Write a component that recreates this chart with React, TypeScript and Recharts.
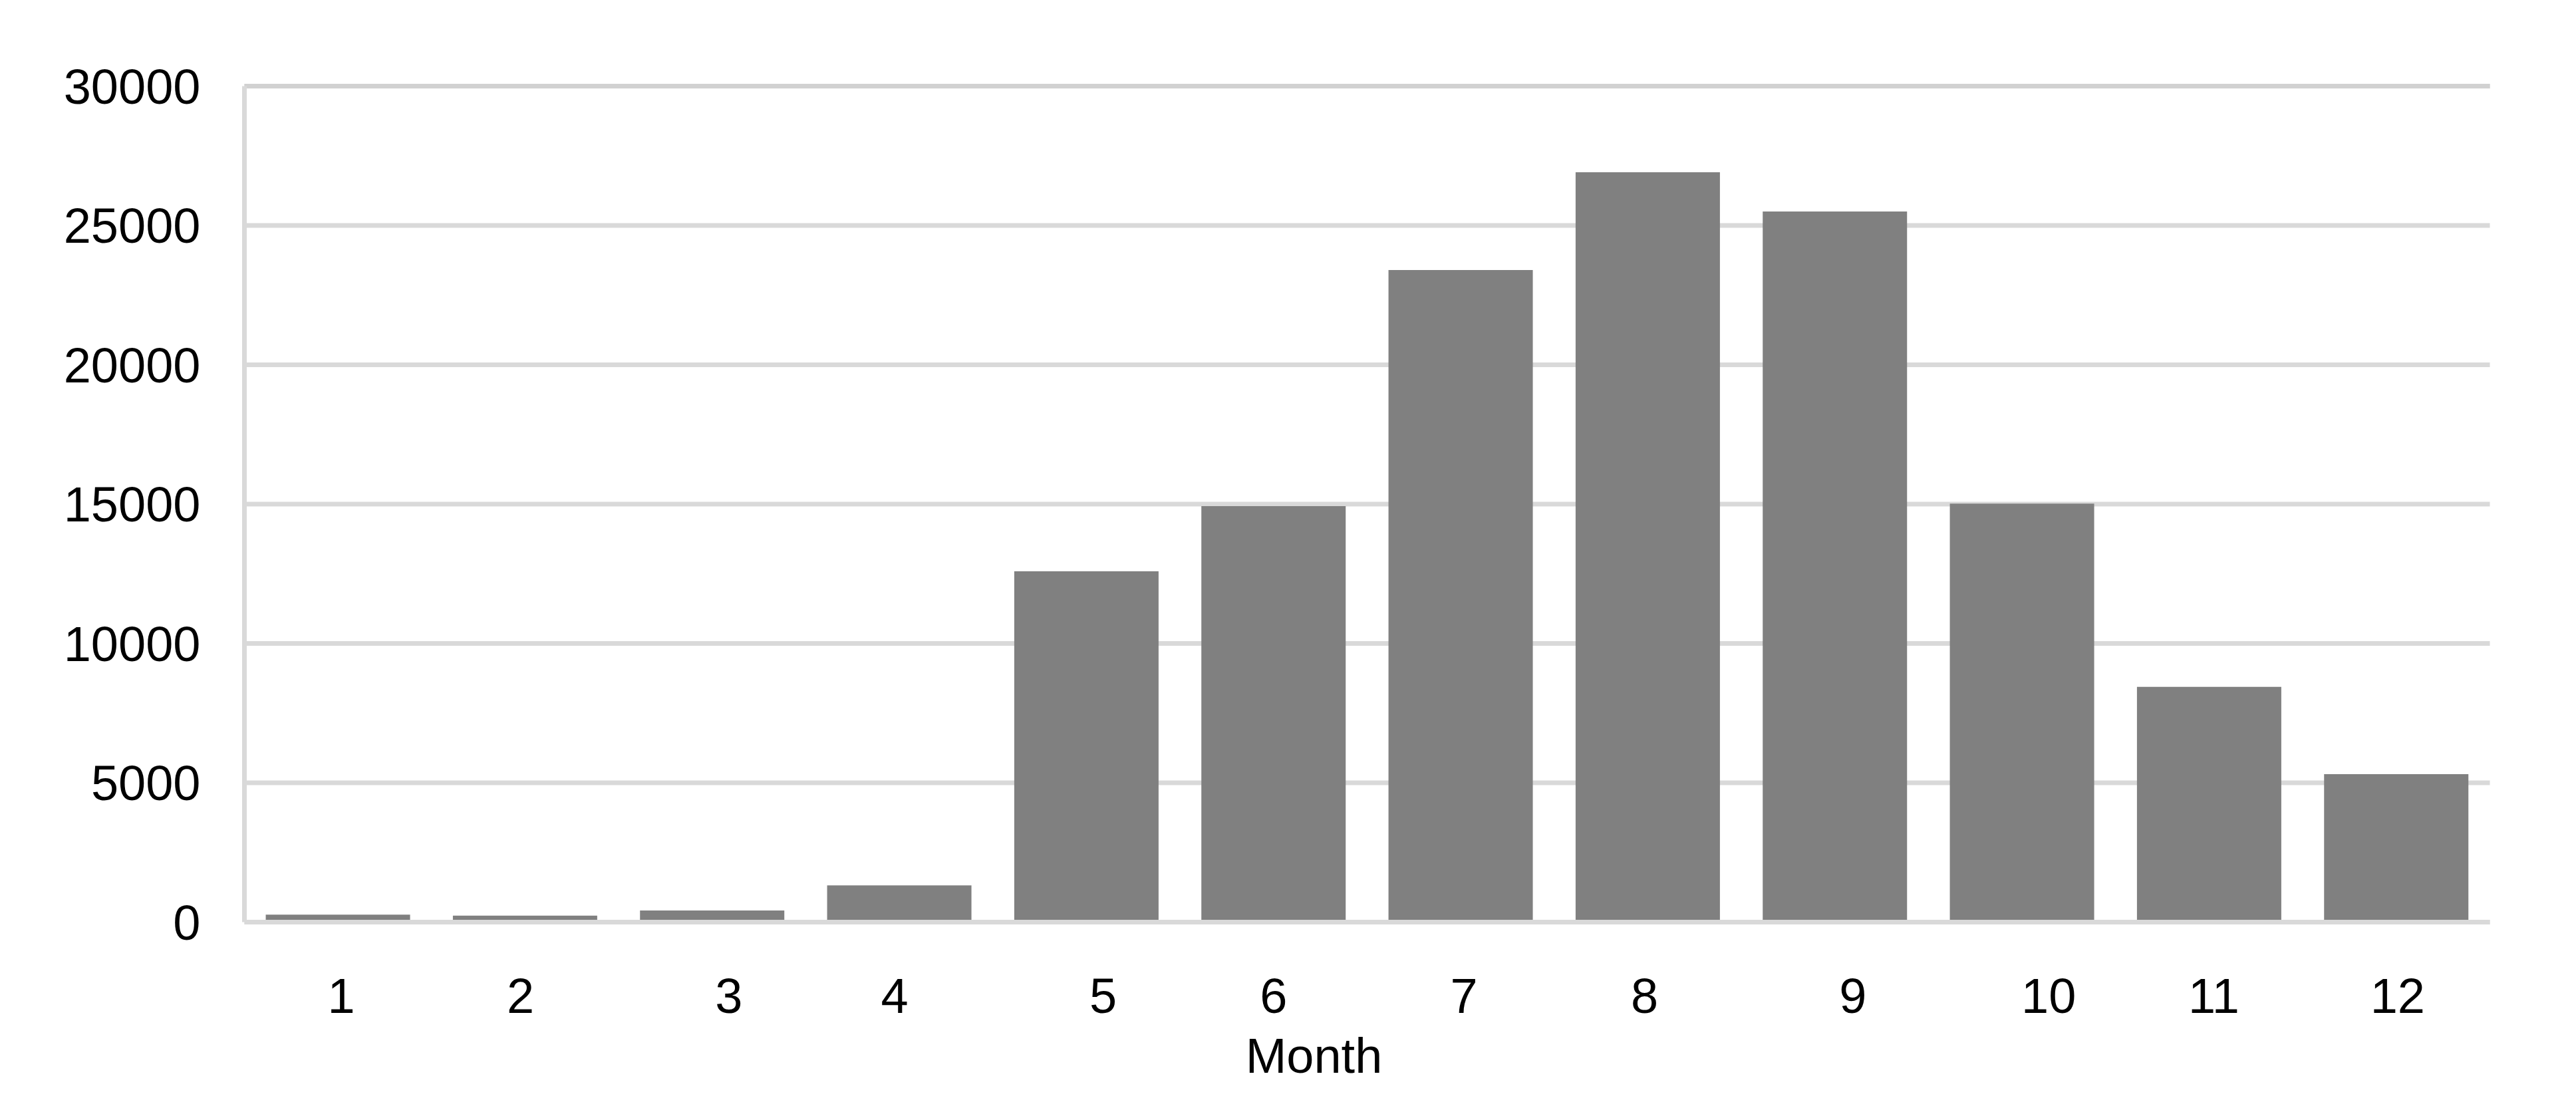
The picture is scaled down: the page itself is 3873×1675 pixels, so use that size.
import { BarChart, Bar, XAxis, YAxis, CartesianGrid, ReferenceLine } from "recharts";

const months = ["1", "2", "3", "4", "5", "6", "7", "8", "9", "10", "11", "12"];
const counts = [270, 230, 420, 1320, 12590, 14930, 23400, 26910, 25500, 15020, 8440, 5310];
const yTicks = [0, 5000, 10000, 15000, 20000, 25000, 30000];

const data = months.map((m, i) => ({ month: m, count: counts[i] }));

const font = "'Liberation Sans', Arial, sans-serif";
const grid = "#d9d9d9";

// the original's month labels sit a little off their bars
const labelNudge = [5, -7, 25, -7, 25, 0, 5, -5, 27, 40, 7, 2];

function MonthTick({ x, y, payload, index }: any) {
  return (
    <text
      x={x + (labelNudge[index] ?? 0)}
      y={y}
      dy="0.71em"
      textAnchor="middle"
      fontFamily={font}
      fontSize={74}
      fill="#000"
    >
      {payload.value}
    </text>
  );
}

function MonthLabel({ viewBox }: any) {
  const cx = viewBox.x + viewBox.width / 2 - 80;
  return (
    <text x={cx} y={1613} textAnchor="middle" fontFamily={font} fontSize={74} fill="#000">
      Month
    </text>
  );
}

export default function App() {
  return (
    <div style={{ position: "absolute", left: 0, top: 0, background: "#fff" }}>
      <BarChart
        width={3873}
        height={1675}
        data={data}
        margin={{ top: 129.5, right: 129.5, bottom: 38.5, left: 0 }}
        barCategoryGap="11.4%"
      >
        <CartesianGrid vertical={false} stroke={grid} strokeWidth={7} />
        <Bar dataKey="count" fill="#808080" isAnimationActive={false} />
        <XAxis
          dataKey="month"
          height={250}
          interval={0}
          axisLine={{ stroke: grid, strokeWidth: 7 }}
          tickLine={false}
          tickSize={0}
          tickMargin={84}
          tick={<MonthTick />}
          label={<MonthLabel />}
        />
        <YAxis
          width={367.5}
          domain={[0, 30000]}
          ticks={yTicks}
          interval={0}
          axisLine={{ stroke: grid, strokeWidth: 7 }}
          tickLine={false}
          tickSize={0}
          tickMargin={66}
          tick={{ fontFamily: font, fontSize: 74, fill: "#000" }}
        />
        <YAxis
          yAxisId="frame"
          orientation="right"
          width={0}
          tick={false}
          tickLine={false}
          axisLine={{ stroke: "#d1d1d1", strokeWidth: 7 }}
        />
        <ReferenceLine y={30000} stroke="#d1d1d1" strokeWidth={7} />
      </BarChart>
    </div>
  );
}
